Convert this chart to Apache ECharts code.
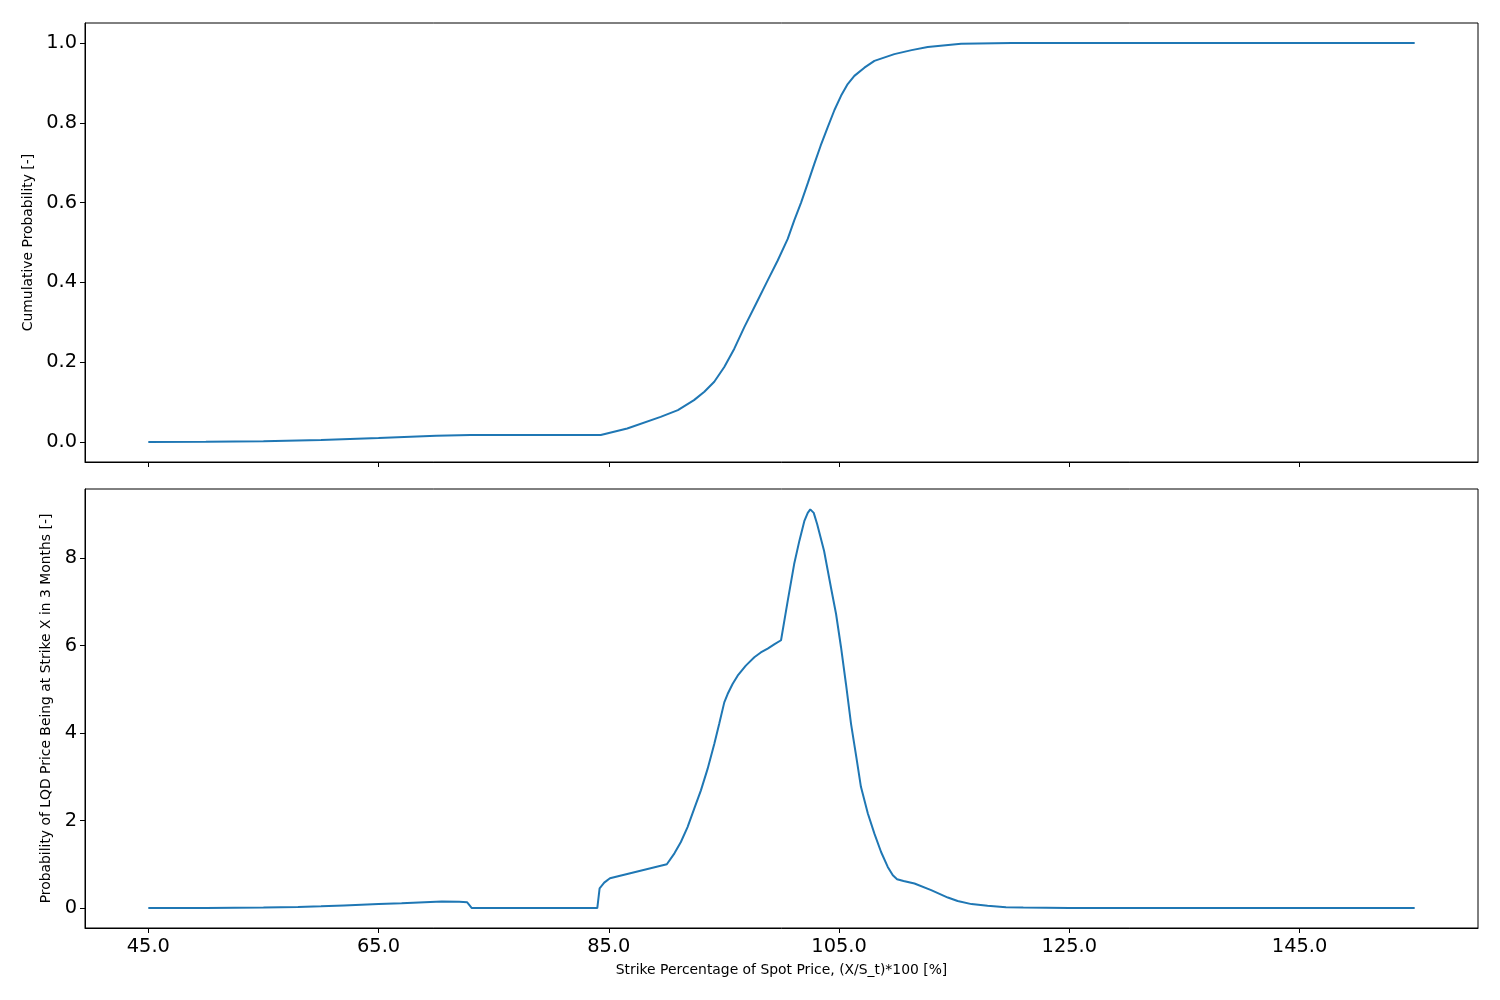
<!DOCTYPE html>
<html>
<head>
<meta charset="utf-8">
<script src="https://cdn.jsdelivr.net/npm/echarts@6/dist/echarts.min.js"></script>
<style>
html,body{margin:0;padding:0;background:#fff;}
#chart{width:1500px;height:1000px;}
</style>
</head>
<body>
<div id="chart"></div>
<script>
// Cumulative probability (top panel): [strike %, value]
const cdfX = [45, 50, 55, 60, 65, 70, 73, 84.3, 86.6, 89.5, 91.0, 92.4, 93.3, 94.16, 95.03, 95.9, 96.77, 97.8, 98.8, 99.67, 100.54, 101.1, 101.7, 102.3, 102.85, 103.4, 104.0, 104.6, 105.17, 105.75, 106.33, 107.2, 108.07, 109.8, 111.3, 112.7, 115.6, 120, 155];
const cdfY = [0.000, 0.0005, 0.002, 0.005, 0.010, 0.016, 0.0175, 0.0175, 0.034, 0.063, 0.080, 0.105, 0.126, 0.151, 0.188, 0.234, 0.288, 0.347, 0.405, 0.455, 0.509, 0.555, 0.600, 0.650, 0.697, 0.7425, 0.788, 0.832, 0.8675, 0.897, 0.9175, 0.938, 0.955, 0.972, 0.982, 0.990, 0.998, 1.000, 1.000];

// Probability density (bottom panel)
const pdfX = [45, 50, 55, 58, 60, 62, 65, 67, 69, 70.5, 72, 72.7, 73.1, 84.0, 84.2, 84.6, 85.1, 90.04, 90.7, 91.26, 91.84, 92.42, 93.0, 93.58, 94.16, 94.59, 95.03, 95.32, 95.75, 96.19, 96.9, 97.64, 98.2, 98.8, 99.4, 99.96, 100.54, 101.1, 101.55, 101.98, 102.28, 102.5, 102.8, 103.1, 103.7, 104.3, 104.74, 105.17, 105.6, 106.04, 106.5, 106.9, 107.5, 108.07, 108.65, 109.23, 109.67, 110.04, 110.6, 111.55, 113.0, 114.45, 115.3, 116.5, 117.9, 119.5, 121, 125, 130, 155];
const pdfY = [0, 0.003, 0.012, 0.025, 0.04, 0.06, 0.09, 0.11, 0.135, 0.15, 0.145, 0.13, 0.0, 0.0, 0.45, 0.58, 0.68, 1.0, 1.25, 1.51, 1.85, 2.27, 2.69, 3.18, 3.75, 4.21, 4.70, 4.89, 5.12, 5.31, 5.54, 5.73, 5.84, 5.93, 6.03, 6.12, 7.02, 7.86, 8.39, 8.84, 9.03, 9.11, 9.03, 8.77, 8.16, 7.32, 6.72, 5.96, 5.12, 4.21, 3.45, 2.77, 2.16, 1.70, 1.28, 0.94, 0.75, 0.66, 0.62, 0.56, 0.41, 0.24, 0.16, 0.09, 0.05, 0.02, 0.01, 0.002, 0, 0];

const xTicks = [45, 65, 85, 105, 125, 145];
const cdfTicks = [0, 0.2, 0.4, 0.6, 0.8, 1.0];
const pdfTicks = [0, 2, 4, 6, 8];

const xTitle = 'Strike Percentage of Spot Price, (X/S_t)*100 [%]';
const cdfTitle = 'Cumulative Probability [-]';
const pdfTitle = 'Probability of LQD Price Being at Strike X in 3 Months [-]';

const FONT = 'DejaVu Sans';
const zip = (a, b) => a.map((v, i) => [v, b[i]]);

const chart = echarts.init(document.getElementById('chart'), null, {renderer: 'canvas'});

const xAxisBase = (showLabels) => ({
  type: 'value',
  min: 39.5, max: 160.5,
  splitLine: {show: false},
  axisLine: {show: true, onZero: false, lineStyle: {color: '#000', width: 1}},
  axisTick: {show: true, length: 5, inside: false, customValues: xTicks, lineStyle: {color: '#000', width: 1}},
  axisLabel: {show: showLabels, customValues: xTicks, formatter: v => v.toFixed(1), color: '#000', fontFamily: FONT, fontSize: 19.4, margin: 9}
});

const yAxisBase = (min, max, ticks, fmt) => ({
  type: 'value',
  min: min, max: max,
  splitLine: {show: false},
  axisLine: {show: true, onZero: false, lineStyle: {color: '#000', width: 1}},
  axisTick: {show: true, length: 5, customValues: ticks, lineStyle: {color: '#000', width: 1}},
  axisLabel: {customValues: ticks, formatter: fmt, color: '#000', fontFamily: FONT, fontSize: 19.4, margin: 8}
});

const option = {
  animation: false,
  backgroundColor: '#fff',
  grid: [
    {left: 85, right: 22, top: 23, height: 439, show: true, borderColor: '#000', borderWidth: 1, backgroundColor: 'transparent'},
    {left: 85, right: 22, top: 489, height: 439, show: true, borderColor: '#000', borderWidth: 1, backgroundColor: 'transparent'}
  ],
  xAxis: [
    Object.assign(xAxisBase(false), {gridIndex: 0}),
    Object.assign(xAxisBase(true), {gridIndex: 1, name: xTitle, nameLocation: 'middle', nameGap: 35,
      nameTextStyle: {color: '#000', fontFamily: FONT, fontSize: 13.9}})
  ],
  yAxis: [
    Object.assign(yAxisBase(-0.05, 1.05, cdfTicks, v => v.toFixed(1)), {gridIndex: 0, name: cdfTitle, nameLocation: 'middle', nameGap: 50,
      nameTextStyle: {color: '#000', fontFamily: FONT, fontSize: 13.9}}),
    Object.assign(yAxisBase(-0.456, 9.576, pdfTicks, v => String(Math.round(v))), {gridIndex: 1, name: pdfTitle, nameLocation: 'middle', nameGap: 31,
      nameTextStyle: {color: '#000', fontFamily: FONT, fontSize: 13.9}})
  ],
  series: [
    {type: 'line', xAxisIndex: 0, yAxisIndex: 0, data: zip(cdfX, cdfY), showSymbol: false, symbol: 'none',
      lineStyle: {color: '#1f77b4', width: 2}, smooth: false},
    {type: 'line', xAxisIndex: 1, yAxisIndex: 1, data: zip(pdfX, pdfY), showSymbol: false, symbol: 'none',
      lineStyle: {color: '#1f77b4', width: 2}, smooth: false}
  ]
};
chart.setOption(option);
</script>
</body>
</html>
